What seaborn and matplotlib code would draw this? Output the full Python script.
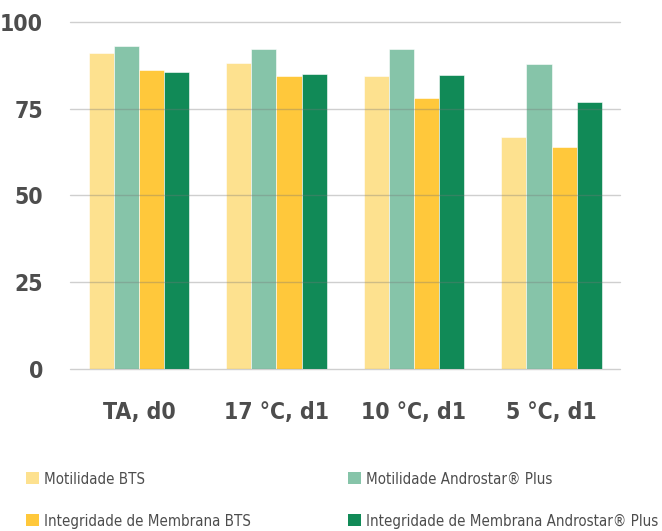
import matplotlib
matplotlib.use("Agg")
import matplotlib.pyplot as plt
from matplotlib.patches import Patch
import seaborn as sns
import pandas as pd

groups = ["TA, d0", "17 °C, d1", "10 °C, d1", "5 °C, d1"]
series = ["Motilidade BTS", "Motilidade Androstar® Plus",
          "Integridade de Membrana BTS", "Integridade de Membrana Androstar® Plus"]
mot_bts = [91.0, 88.2, 84.3, 66.9]
mot_andro = [93.0, 92.3, 92.3, 87.8]
memb_bts = [86.1, 84.3, 78.0, 63.8]
memb_andro = [85.4, 85.0, 84.6, 77.0]
colors = ["#FDE18F", "#86C4A9", "#FFC83B", "#118A57"]

rows = []
for name, vals in zip(series, [mot_bts, mot_andro, memb_bts, memb_andro]):
    for g, v in zip(groups, vals):
        rows.append({"grupo": g, "serie": name, "valor": v})
df = pd.DataFrame(rows)

sns.set_style("white")
plt.rcParams["font.family"] = ["DejaVu Sans"]
plt.rcParams["font.stretch"] = "condensed"
txt = "#4d4d4d"

fig = plt.figure(figsize=(6.62, 5.31), dpi=100)
ax = fig.add_axes([0.106, 0.305, 0.831, 0.654])

sns.barplot(data=df, x="grupo", y="valor", hue="serie", order=groups,
            hue_order=series, palette=colors, saturation=1, width=0.73, gap=0,
            edgecolor="white", linewidth=0.4, legend=False, ax=ax)

ax.set_ylim(0, 100)
ax.set_xlim(-0.5, 3.5)
ax.set_yticks([0, 25, 50, 75, 100])
ax.set_axisbelow(False)
ax.yaxis.grid(True, color="#777777", alpha=0.35, linewidth=1.0)
for gl in ax.get_ygridlines():
    gl.set_clip_on(False)
for s in ax.spines.values():
    s.set_visible(False)
ax.set_xlabel("")
ax.set_ylabel("")
ax.tick_params(axis="both", length=0, labelsize=16.5, colors=txt)
ax.tick_params(axis="y", pad=19.5)
ax.tick_params(axis="x", pad=23)
for lab in ax.get_xticklabels() + ax.get_yticklabels():
    lab.set_fontweight("bold")

h = [Patch(facecolor=c, edgecolor="none") for c in colors]
common = dict(frameon=False, fontsize=10.8, labelcolor=txt, handlelength=0.87,
              handleheight=0.87, handletextpad=0.3, labelspacing=1.8,
              borderpad=0, borderaxespad=0, loc="upper left")
fig.legend([h[0], h[2]], [series[0], series[2]],
           bbox_to_anchor=(0.0393, 0.112), **common)
fig.legend([h[1], h[3]], [series[1], series[3]],
           bbox_to_anchor=(0.5257, 0.112), **common)

fig.savefig("out.png", dpi=100)
